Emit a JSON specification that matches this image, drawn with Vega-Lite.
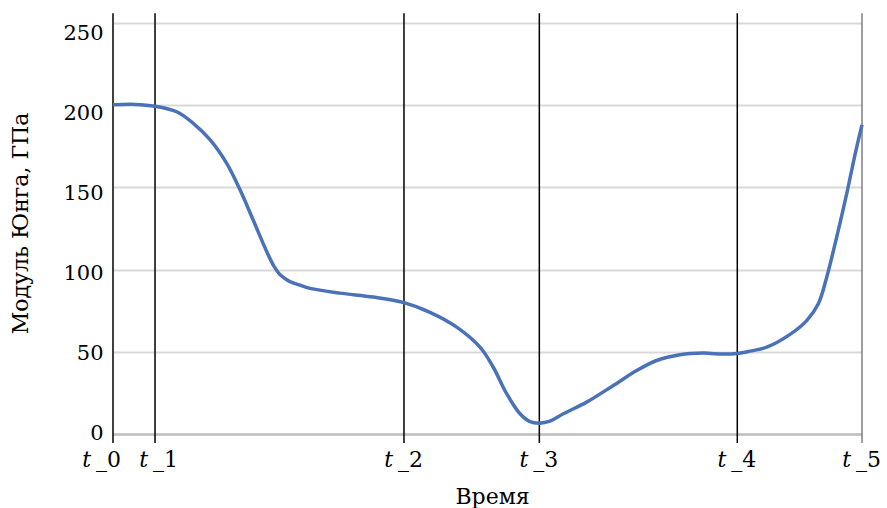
{
  "$schema": "https://vega.github.io/schema/vega-lite/v6.json",
  "width": 749,
  "height": 411,
  "autosize": {"type": "none"},
  "padding": {"left": 113, "top": 23, "right": 25, "bottom": 74},
  "background": "white",
  "config": {"font": "DejaVu Serif", "view": {"stroke": null}},
  "datasets": {
    "curve": [
      {"time": 0, "E": 200.2},
      {"time": 2.94, "E": 200.5},
      {"time": 5.61, "E": 199.4},
      {"time": 8.5, "E": 196},
      {"time": 10.72, "E": 189},
      {"time": 12.95, "E": 179},
      {"time": 15.18, "E": 164.6},
      {"time": 16.96, "E": 148.5},
      {"time": 18.73, "E": 130},
      {"time": 20.52, "E": 111},
      {"time": 21.5, "E": 102},
      {"time": 22.4, "E": 96.5},
      {"time": 23.5, "E": 93},
      {"time": 24.97, "E": 90.5},
      {"time": 26.3, "E": 88.6},
      {"time": 30.31, "E": 85.7},
      {"time": 34.75, "E": 83.3},
      {"time": 38.85, "E": 79.9},
      {"time": 42.32, "E": 74},
      {"time": 45.89, "E": 65},
      {"time": 49.0, "E": 52.8},
      {"time": 50.77, "E": 40.6},
      {"time": 52.56, "E": 24.5},
      {"time": 54.34, "E": 12.3},
      {"time": 55.67, "E": 7.5},
      {"time": 56.92, "E": 6.6},
      {"time": 58.34, "E": 7.8},
      {"time": 60.12, "E": 12.3},
      {"time": 63.24, "E": 19.4},
      {"time": 66.8, "E": 29.5},
      {"time": 69.92, "E": 38.6},
      {"time": 72.59, "E": 44.7},
      {"time": 75.7, "E": 48.2},
      {"time": 78.81, "E": 49.2},
      {"time": 81.48, "E": 48.6},
      {"time": 83.35, "E": 49},
      {"time": 85.05, "E": 50.4},
      {"time": 87.28, "E": 52.8},
      {"time": 90.39, "E": 60.6},
      {"time": 92.62, "E": 69},
      {"time": 94.17, "E": 79.2},
      {"time": 95.29, "E": 95.4},
      {"time": 96.62, "E": 119.8},
      {"time": 97.96, "E": 146.2},
      {"time": 99.07, "E": 170},
      {"time": 100, "E": 188}
    ],
    "ticks": [
      {"time": 0, "lab": "_0"},
      {"time": 5.61, "lab": "_1"},
      {"time": 38.85, "lab": "_2"},
      {"time": 56.92, "lab": "_3"},
      {"time": 83.35, "lab": "_4"},
      {"time": 100, "lab": "_5"}
    ]
  },
  "layer": [
    {
      "data": {"name": "ticks"},
      "mark": {"type": "rule", "strokeWidth": 1.5},
      "encoding": {
        "x": {
          "field": "time",
          "type": "quantitative",
          "scale": {"domain": [0, 100], "nice": false, "zero": false},
          "axis": {
            "labels": false,
            "ticks": false,
            "grid": false,
            "domainColor": "#bfbfbf",
            "domainWidth": 2.5,
            "title": "Время",
            "titleFontSize": 22,
            "titleFontWeight": "normal",
            "titleColor": "black",
            "titleX": 379,
            "titleY": 69,
            "titleBaseline": "alphabetic"
          }
        },
        "y": {
          "datum": 256,
          "type": "quantitative",
          "scale": {"domain": [0, 250], "nice": false},
          "axis": {
            "values": [0, 50, 100, 150, 200, 250],
            "grid": true,
            "gridColor": "#d9d9d9",
            "gridWidth": 2,
            "ticks": false,
            "domain": false,
            "labelFontSize": 21,
            "labelColor": "black",
            "labelPadding": 10,
            "labelOffset": {"expr": "datum.value * 0.044 - 1"},
            "title": "Модуль Юнга, ГПа",
            "titleFontSize": 22,
            "titleFontWeight": "normal",
            "titleColor": "black",
            "titleX": -86,
            "titleY": 200,
            "titleAngle": -90,
            "titleAlign": "center",
            "titleBaseline": "alphabetic"
          }
        },
        "y2": {"datum": -5.5},
        "color": {
          "condition": {"test": "datum.time == 100", "value": "#7f7f7f"},
          "value": "black"
        }
      }
    },
    {
      "data": {"name": "curve"},
      "mark": {"type": "line", "interpolate": "catmull-rom", "color": "#4a72b8", "strokeWidth": 3.5},
      "encoding": {
        "x": {"field": "time", "type": "quantitative"},
        "y": {"field": "E", "type": "quantitative"}
      }
    },
    {
      "data": {"name": "ticks"},
      "transform": [{"filter": "datum.time == 0"}],
      "mark": {"type": "text", "text": "t", "fontStyle": "italic", "fontSize": 22, "align": "right", "baseline": "alphabetic", "dx": -22, "dy": 33, "color": "black"},
      "encoding": {
        "x": {"field": "time", "type": "quantitative"},
        "y": {"datum": 0, "type": "quantitative"}
      }
    },
    {
      "data": {"name": "ticks"},
      "transform": [{"filter": "datum.time == 0"}],
      "mark": {"type": "text", "fontSize": 22, "align": "left", "baseline": "alphabetic", "dx": -17, "dy": 33, "color": "black"},
      "encoding": {
        "x": {"field": "time", "type": "quantitative"},
        "y": {"datum": 0, "type": "quantitative"},
        "text": {"field": "lab"}
      }
    },
    {
      "data": {"name": "ticks"},
      "transform": [{"filter": "datum.time > 0 && datum.time < 10"}],
      "mark": {"type": "text", "text": "t", "fontStyle": "italic", "fontSize": 22, "align": "right", "baseline": "alphabetic", "dx": -7, "dy": 33, "color": "black"},
      "encoding": {
        "x": {"field": "time", "type": "quantitative"},
        "y": {"datum": 0, "type": "quantitative"}
      }
    },
    {
      "data": {"name": "ticks"},
      "transform": [{"filter": "datum.time > 0 && datum.time < 10"}],
      "mark": {"type": "text", "fontSize": 22, "align": "left", "baseline": "alphabetic", "dx": -2, "dy": 33, "color": "black"},
      "encoding": {
        "x": {"field": "time", "type": "quantitative"},
        "y": {"datum": 0, "type": "quantitative"},
        "text": {"field": "lab"}
      }
    },
    {
      "data": {"name": "ticks"},
      "transform": [{"filter": "datum.time > 10"}],
      "mark": {"type": "text", "text": "t", "fontStyle": "italic", "fontSize": 22, "align": "right", "baseline": "alphabetic", "dx": -11, "dy": 33, "color": "black"},
      "encoding": {
        "x": {"field": "time", "type": "quantitative"},
        "y": {"datum": 0, "type": "quantitative"}
      }
    },
    {
      "data": {"name": "ticks"},
      "transform": [{"filter": "datum.time > 10"}],
      "mark": {"type": "text", "fontSize": 22, "align": "left", "baseline": "alphabetic", "dx": -6, "dy": 33, "color": "black"},
      "encoding": {
        "x": {"field": "time", "type": "quantitative"},
        "y": {"datum": 0, "type": "quantitative"},
        "text": {"field": "lab"}
      }
    }
  ]
}
